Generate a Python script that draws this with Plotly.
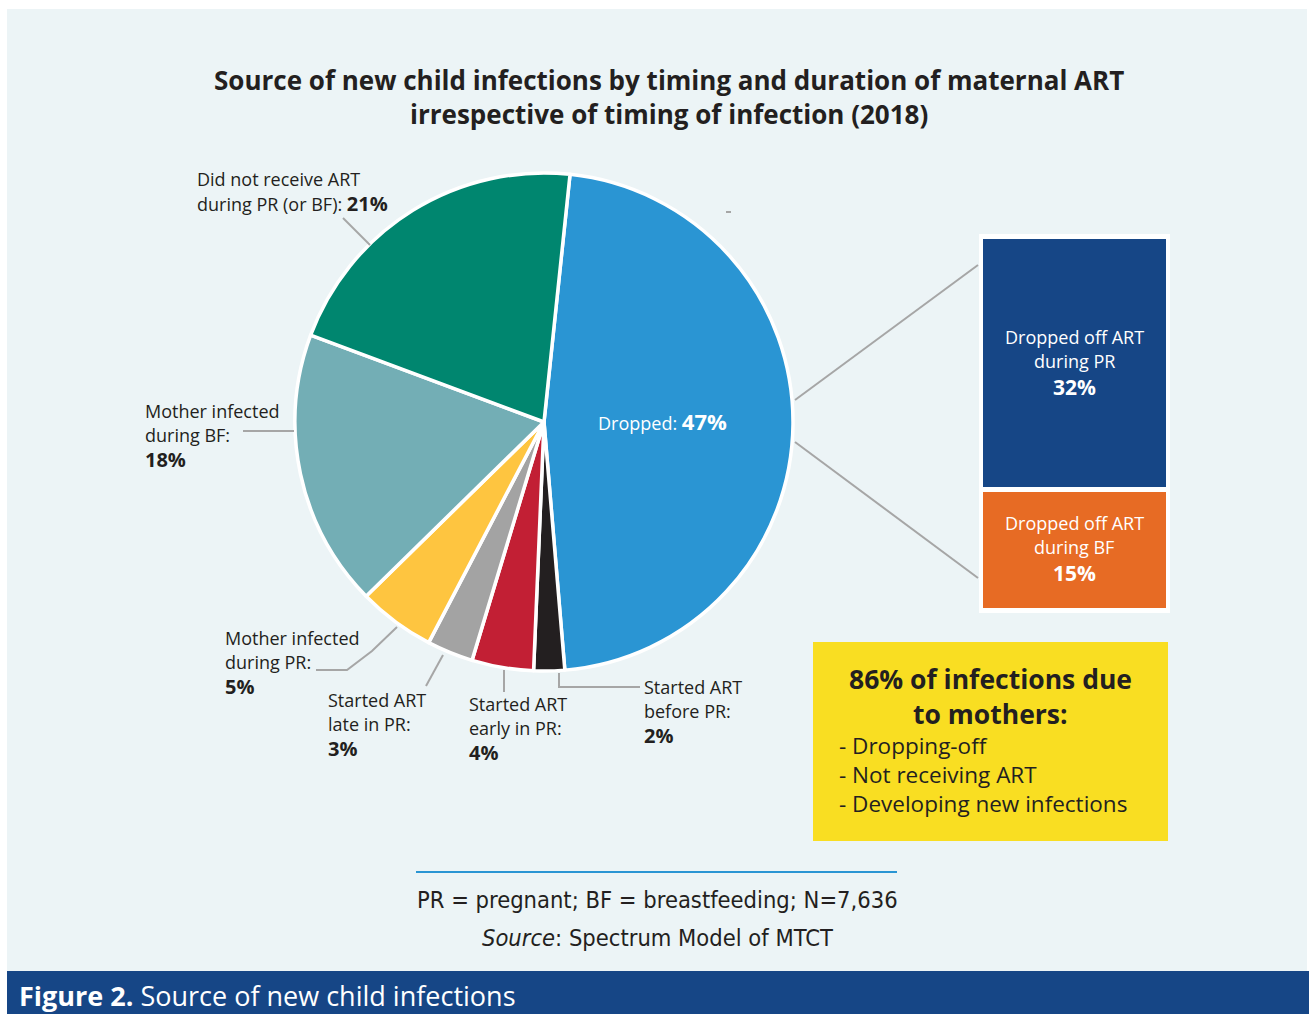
import plotly.graph_objects as go

W, H = 1309, 1014

# ---- data ----
slice_labels = ["Dropped", "Started ART before PR", "Started ART early in PR",
                "Started ART late in PR", "Mother infected during PR",
                "Mother infected during BF", "Did not receive ART during PR (or BF)"]
slice_values = [47, 2, 4, 3, 5, 18, 21]
slice_colors = ["#2A95D3", "#231F20", "#C21F34", "#A3A3A3", "#FEC540", "#73AEB5", "#00866F"]

dropped_labels = ["Dropped off ART<br>during PR", "Dropped off ART<br>during BF"]
dropped_values = [32, 15]

FONT = "'Open Sans', Lato, sans-serif"
COND = "'DejaVu Sans Condensed', 'Roboto', sans-serif"
DARK = "#231F20"


def px(x):
    return x / W


def py(y):
    return 1 - y / H


cx, cy, r = 544, 422, 249

fig = go.Figure()
fig.add_trace(go.Pie(
    labels=slice_labels, values=slice_values, sort=False, direction="clockwise",
    rotation=6, marker=dict(colors=slice_colors, line=dict(color="white", width=3.5)),
    textinfo="none", hoverinfo="label+percent", showlegend=False,
    domain=dict(x=[px(cx - r), px(cx + r)], y=[py(cy + r), py(cy - r)]),
))

shapes = []
ann = []

# background
shapes.append(dict(type="rect", xref="paper", yref="paper", x0=px(7), x1=px(1307), y0=py(971), y1=py(9),
                   fillcolor="#ECF4F6", line=dict(width=0), layer="below"))
# bottom banner
shapes.append(dict(type="rect", xref="paper", yref="paper", x0=px(7), x1=px(1309), y0=0, y1=py(971),
                   fillcolor="#164686", line=dict(width=0), layer="below"))


def line(pts, color="#A6A6A6", width=2):
    path = "M " + " L ".join(f"{px(x)},{py(y)}" for x, y in pts)
    shapes.append(dict(type="path", xref="paper", yref="paper", path=path,
                       line=dict(color=color, width=width)))


def text(x, y, s, size=18, color=DARK, xanchor="left", family=FONT, pad=1):
    if xanchor == "left":
        x -= 2
    ann.append(dict(x=px(x), y=py(y), xref="paper", yref="paper", text=s, showarrow=False,
                    xanchor=xanchor, yanchor="middle", borderpad=pad,
                    font=dict(size=size, color=color, family=family)))


# title
text(669, 80, "<b>Source of new child infections by timing and duration of maternal ART</b>", 26, xanchor="center")
text(669, 114, "<b>irrespective of timing of infection (2018)</b>", 26, xanchor="center")


# slice labels
def label(x, y, lines, val):
    for i, l in enumerate(lines):
        text(x, y + 24 * i, l, pad=0)
    text(x, y + 24 * len(lines), f"<b>{val}%</b>", 20, pad=0)


text(198, 179, "Did not receive ART", pad=0)
text(198, 203, "during PR (or BF): <span style='font-size:20px'><b>%d%%</b></span>" % slice_values[6], pad=0)
label(146, 411, ["Mother infected", "during BF:"], slice_values[5])
label(226, 638, ["Mother infected", "during PR:"], slice_values[4])
label(329, 700, ["Started ART", "late in PR:"], slice_values[3])
label(470, 704, ["Started ART", "early in PR:"], slice_values[2])
label(645, 687, ["Started ART", "before PR:"], slice_values[1])
text(663, 421, "Dropped: <span style='font-size:22px'><b>%d%%</b></span>" % slice_values[0], 18, color="white", xanchor="center")

# leader lines
line([(343, 218), (370, 245)])
line([(243, 431), (294, 431)])
line([(316, 670), (347, 670), (372, 651), (397, 627)])
line([(426, 686), (443, 655)])
line([(504, 692), (504, 670)])
line([(559, 673), (559, 687), (640, 687)])
line([(726, 212), (731, 212)])

# breakout boxes
line([(795, 400), (978, 265)])
line([(795, 442), (978, 578)])
shapes.append(dict(type="rect", xref="paper", yref="paper", x0=px(979), x1=px(1170), y0=py(613), y1=py(234),
                   fillcolor="white", line=dict(width=0)))
shapes.append(dict(type="rect", xref="paper", yref="paper", x0=px(983), x1=px(1166), y0=py(487), y1=py(239),
                   fillcolor="#164686", line=dict(width=0)))
shapes.append(dict(type="rect", xref="paper", yref="paper", x0=px(983), x1=px(1166), y0=py(608), y1=py(492),
                   fillcolor="#E76B24", line=dict(width=0)))
for (y0, lab, v) in [(337, dropped_labels[0], dropped_values[0]), (523, dropped_labels[1], dropped_values[1])]:
    l1, l2 = lab.split("<br>")
    text(1074, y0, l1, 18, "white", "center", pad=0)
    text(1074, y0 + 24, l2, 18, "white", "center", pad=0)
    text(1074, y0 + 49.5, f"<b>{v}%</b>", 21, "white", "center", pad=0)

# yellow box
shapes.append(dict(type="rect", xref="paper", yref="paper", x0=px(813), x1=px(1168), y0=py(841), y1=py(642),
                   fillcolor="#F9DE22", line=dict(width=0)))
text(990, 679, "<b>86% of infections due</b>", 26.5, xanchor="center")
text(990, 714, "<b>to mothers:</b>", 26.5, xanchor="center")
text(840, 745, "- Dropping-off", 22.5, pad=0)
text(840, 774, "- Not receiving ART", 22.5, pad=0)
text(840, 803, "- Developing new infections", 22.5, pad=0)

# footer
line([(416, 872), (897, 872)], color="#2A95D3", width=2)
text(657, 900, "PR = pregnant; BF = breastfeeding; N=7,636", 23.5, xanchor="center", family=COND)
text(657, 938, "<i>Source</i>: Spectrum Model of MTCT", 23.5, xanchor="center", family=COND)

# banner text
text(20, 995, "<b>Figure 2.</b> Source of new child infections", 27, color="white", pad=0)

fig.update_layout(width=W, height=H, margin=dict(l=0, r=0, t=0, b=0),
                  paper_bgcolor="white", plot_bgcolor="white",
                  shapes=shapes, annotations=ann, showlegend=False)
fig.write_html("out.html")
